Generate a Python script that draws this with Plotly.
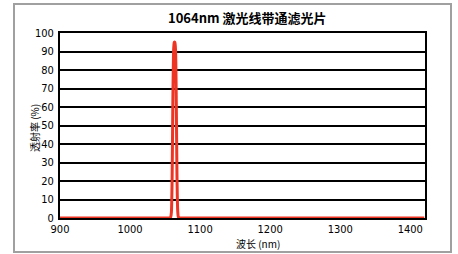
import plotly.graph_objects as go

title_text = "1064nm 激光线带通滤光片"
x_title = "波长 (nm)"
y_title = "透射率 (%)"

wavelength = [900, 1050, 1056, 1058, 1059, 1060, 1061, 1062, 1063, 1064, 1065, 1066, 1067, 1068, 1069, 1071, 1080, 1420]
transmission = [0, 0, 0, 0.5, 3, 20, 60, 88, 95, 95, 90, 62, 22, 4, 0.5, 0, 0, 0]

x_ticks = [900, 1000, 1100, 1200, 1300, 1400]
y_ticks = [0, 10, 20, 30, 40, 50, 60, 70, 80, 90, 100]

font_family = "DejaVu Sans Condensed, Liberation Sans Narrow, sans-serif"
cjk_family = "Noto Sans CJK SC, sans-serif"

fig = go.Figure()
fig.add_trace(go.Scatter(
    x=wavelength, y=transmission, mode="lines",
    line=dict(color="#ee3524", width=3, shape="spline", smoothing=0.6),
    hoverinfo="skip", showlegend=False, cliponaxis=False,
))

L, R, T, B = 60, 33, 33, 36
W, H = 458, 254
pw, ph = W - L - R, H - T - B

def px(xp):
    return (xp - L) / pw

def py(yp):
    return (H - B - yp) / ph

fig.update_layout(
    width=W, height=H,
    margin=dict(l=L, r=R, t=T, b=B, pad=0),
    paper_bgcolor="white", plot_bgcolor="white",
    font=dict(family=font_family, size=11, color="black"),
    xaxis=dict(range=[900, 1421], tickvals=x_ticks, ticktext=[str(v) for v in x_ticks],
               showgrid=False, zeroline=False, showline=True, linecolor="black",
               linewidth=2, mirror=True, ticks="", tickfont=dict(size=11)),
    yaxis=dict(range=[0, 100], tickvals=y_ticks, showgrid=True, gridcolor="black",
               gridwidth=1.5, zeroline=False, showline=True, linecolor="black",
               linewidth=2, mirror=True, ticks="", ticklabelstandoff=2,
               tickfont=dict(size=11)),
    shapes=[dict(type="rect", xref="paper", yref="paper",
                 x0=px(14), x1=px(451), y0=py(252), y1=py(4),
                 line=dict(color="#a0a0a0", width=2))],
    annotations=[
        dict(text="<b>" + title_text + "</b>", xref="paper", yref="paper",
             x=px(247), y=py(18), showarrow=False, xanchor="center", yanchor="middle",
             font=dict(size=13, family=cjk_family)),
        dict(text=x_title, xref="paper", yref="paper",
             x=px(258), y=py(243), showarrow=False, xanchor="center", yanchor="middle",
             font=dict(size=10, family=cjk_family)),
        dict(text=y_title, xref="paper", yref="paper", textangle=-90,
             x=px(34), y=py(128), showarrow=False, xanchor="center", yanchor="middle",
             font=dict(size=10, family=cjk_family)),
    ],
)

fig.write_html("out.html", config={"displayModeBar": False},
               post_script="document.body.style.margin='0';document.body.style.padding='0';")
